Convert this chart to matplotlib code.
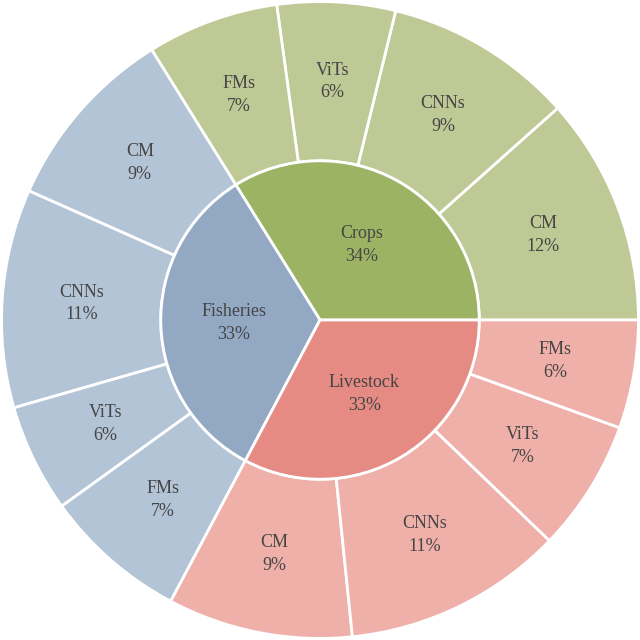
import matplotlib.pyplot as plt
import numpy as np

plt.rcParams['font.family'] = ['Liberation Serif', 'DejaVu Serif']

# Inner ring
sectors = ['Crops', 'Fisheries', 'Livestock']
sector_pct = [34, 33, 33]
inner_colors = ['#9db364', '#93a8c3', '#e58b84']
outer_colors = ['#bec995', '#b3c4d7', '#efb0aa']

# Outer ring, per sector (counterclockwise from 3 o'clock)
models = ['CM', 'CNNs', 'ViTs', 'FMs']
# wedge shares
crops_share = [11.6, 9.6, 6.0, 6.7]
fisheries_share = [9.5, 11.1, 5.5, 7.3]
livestock_share = [9.4, 11.2, 6.7, 5.5]
# percentages as printed
crops_pct = [12, 9, 6, 7]
fisheries_pct = [9, 11, 6, 7]
livestock_pct = [9, 11, 7, 6]

outer_vals = crops_share + fisheries_share + livestock_share
outer_pct = crops_pct + fisheries_pct + livestock_pct
outer_labels = [f'{m}\n{v}%' for m, v in zip(models * 3, outer_pct)]
outer_cols = [c for c in outer_colors for _ in models]
inner_vals = [sum(crops_share), sum(fisheries_share), sum(livestock_share)]
inner_labels = [f'{s}\n{v}%' for s, v in zip(sectors, sector_pct)]

fig, ax = plt.subplots(figsize=(6.4, 6.4), dpi=100)
fig.subplots_adjust(left=0, right=1, bottom=0, top=1)

wedge = dict(edgecolor='white', linewidth=2)
txt = dict(color='#454545', fontsize=13, linespacing=1.45)

ax.pie(outer_vals, radius=1.0, colors=outer_cols, startangle=0,
       counterclock=True, wedgeprops=dict(width=0.5, **wedge))
ax.pie(inner_vals, radius=0.5, colors=inner_colors, startangle=0,
       counterclock=True, wedgeprops=wedge)

# labels in the middle of each wedge
def place(vals, labels, r):
    start = 0
    tot = sum(vals)
    for v, lab in zip(vals, labels):
        mid = np.deg2rad((start + v / 2) / tot * 360)
        ax.text(r * np.cos(mid), r * np.sin(mid), lab, ha='center', va='center', **txt)
        start += v

place(outer_vals, outer_labels, 0.75)
place(inner_vals, inner_labels, 0.27)

ax.set_xlim(-1.005, 1.005)
ax.set_ylim(-1.005, 1.005)
ax.set_aspect('equal')
ax.axis('off')

plt.savefig('out.png', dpi=100, facecolor='white')
